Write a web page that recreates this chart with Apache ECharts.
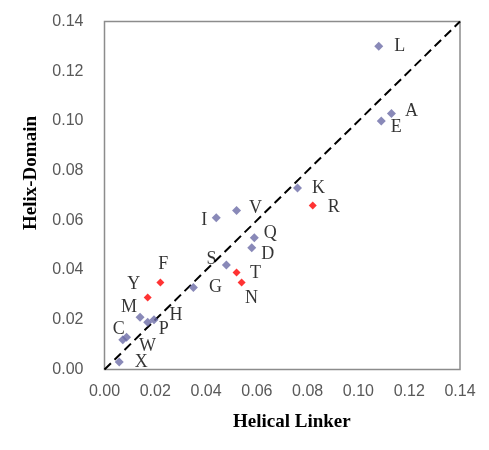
<!DOCTYPE html>
<html>
<head>
<meta charset="utf-8">
<script src="https://cdn.jsdelivr.net/npm/echarts@6/dist/echarts.min.js"></script>
<style>html,body{margin:0;padding:0;background:#fff;}#c{width:489px;height:450px;}</style>
</head>
<body>
<div id="c"></div>
<script>
// Data
const blueNames = ['L','A','E','K','I','V','Q','D','S','G','M','H','P','C','W','X'];
const blueX = [0.108,0.113,0.109,0.076,0.044,0.052,0.059,0.058,0.048,0.035,0.014,0.0195,0.017,0.0072,0.0087,0.0058];
const blueY = [0.130,0.103,0.100,0.073,0.061,0.064,0.053,0.049,0.042,0.033,0.021,0.020,0.019,0.012,0.013,0.003];
const redNames = ['R','T','N','F','Y'];
const redX = [0.082,0.052,0.054,0.022,0.017];
const redY = [0.066,0.039,0.035,0.035,0.029];
const diagX = [0, 0.14];
const diagY = [0, 0.14];
const tickValues = [0,0.02,0.04,0.06,0.08,0.10,0.12,0.14];

// Label placement (styling)
const labelOffset = {
  L:[21,0], A:[20,-2], E:[15,6], K:[21,0], R:[21,2], I:[-12,2], V:[19,-2], Q:[16,-4],
  D:[16,7], S:[-15,-6], T:[19,1], N:[10,16], G:[22,0], F:[3,-18], Y:[-14,-13], M:[-11,-10],
  H:[22,-5], P:[16,7], C:[-4,-10], W:[21,9], X:[22,0]
};

function pts(names, xs, ys) {
  return names.map((n, i) => ({
    name: n, value: [xs[i], ys[i]],
    label: { offset: labelOffset[n] }
  }));
}

const labelStyle = {
  show: true, position: 'inside', formatter: '{b}',
  fontFamily: 'Liberation Serif', fontSize: 18, color: '#000'
};

const chart = echarts.init(document.getElementById('c'));
const axisCommon = {
  type: 'value', min: 0, max: 0.14, interval: 0.02,
  axisLine: { show: false }, axisTick: { show: false }, splitLine: { show: false },
  axisLabel: { fontFamily: 'Liberation Sans', fontSize: 16, color: '#595959',
    formatter: v => v.toFixed(2) }
};
chart.setOption({
  animation: false,
  grid: { left: 104.5, top: 21.5, right: 29, bottom: 80.5, show: true,
    borderColor: '#8c8c8c', borderWidth: 1.5, backgroundColor: '#fff' },
  xAxis: Object.assign({}, axisCommon, { axisLabel: Object.assign({}, axisCommon.axisLabel, { margin: 14 }) }),
  yAxis: Object.assign({}, axisCommon, { axisLabel: Object.assign({}, axisCommon.axisLabel, { margin: 21 }) }),
  graphic: [
    { type: 'text', left: 233, top: 413, style: { text: 'Helical Linker', font: 'bold 19px "Liberation Serif"', fill: '#000' } },
    { type: 'text', rotation: Math.PI / 2, x: 21.5, y: 230, style: { text: 'Helix-Domain', font: 'bold 19px "Liberation Serif"', fill: '#000' } }
  ],
  series: [
    { type: 'line', data: diagX.map((x, i) => [x, diagY[i]]), symbol: 'none',
      lineStyle: { color: '#000', width: 2, type: [9, 5] }, z: 1, silent: true },
    { type: 'scatter', symbol: 'diamond', symbolSize: 9, itemStyle: { color: '#6b6ba6' },
      label: labelStyle, data: pts(blueNames, blueX, blueY), z: 3 },
    { type: 'scatter', symbol: 'diamond', symbolSize: 8, itemStyle: { color: '#ff0000' },
      label: labelStyle, data: pts(redNames, redX, redY), z: 3 }
  ]
});
</script>
</body>
</html>
